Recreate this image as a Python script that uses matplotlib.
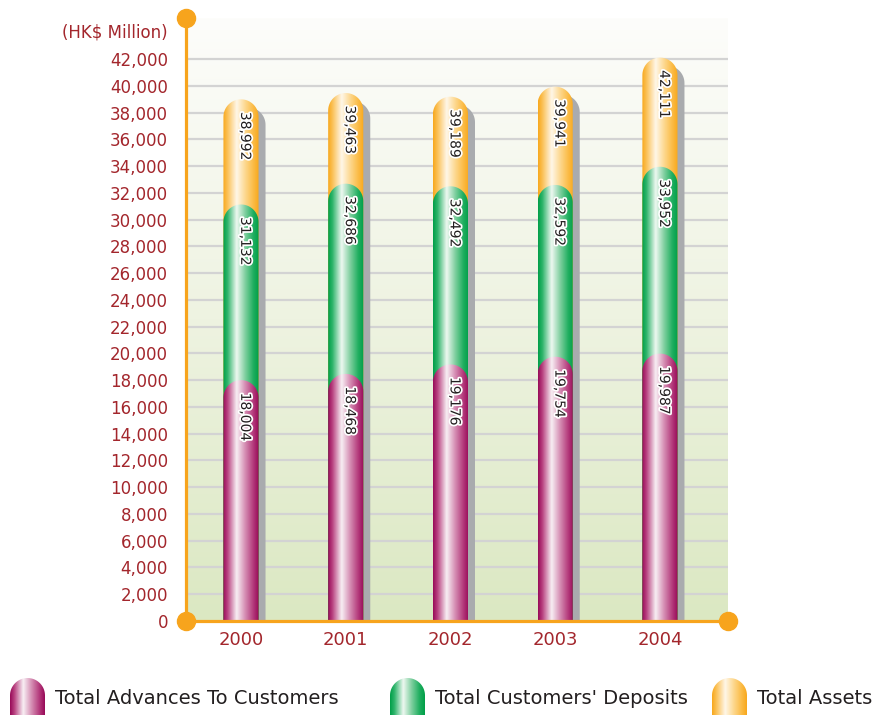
import numpy as np
import matplotlib
matplotlib.use('Agg')
import matplotlib.pyplot as plt
from matplotlib.path import Path
from matplotlib.patches import PathPatch
from matplotlib.colors import LinearSegmentedColormap
import matplotlib.patheffects as pe

# Dados (HK$ milhoes)
years = ['2000', '2001', '2002', '2003', '2004']
advances = [18004, 18468, 19176, 19754, 19987]
deposits = [31132, 32686, 32492, 32592, 33952]
assets = [38992, 39463, 39189, 39941, 42111]
y_ticks = list(range(0, 42001, 2000))
series_names = ['Total Advances To Customers', "Total Customers' Deposits", 'Total Assets']

red = '#a3262c'
orange_axis = '#f7a41d'

cmaps = {
    'mag': LinearSegmentedColormap.from_list('mag', [(0, '#970a58'), (0.12, '#b8407f'), (0.38, '#f8eff4'),
                                                     (0.62, '#d58db3'), (0.85, '#b3387a'), (1, '#970a58')]),
    'grn': LinearSegmentedColormap.from_list('grn', [(0, '#009e48'), (0.12, '#2db46a'), (0.38, '#eef8f1'),
                                                     (0.62, '#7fcf9f'), (0.85, '#1fae5f'), (1, '#009e48')]),
    'org': LinearSegmentedColormap.from_list('org', [(0, '#f8a81c'), (0.12, '#fbc055'), (0.38, '#fff7e8'),
                                                     (0.62, '#fdd88f'), (0.85, '#fbbb45'), (1, '#f8a81c')]),
}

W, H = 893, 715
fig = plt.figure(figsize=(W / 100, H / 100), dpi=100)
ax = fig.add_axes([186 / W, (H - 621) / H, (728 - 186) / W, (621 - 18) / H])

x = np.arange(len(years))
xmin, xmax = -0.525, 4.65
ymax = 45070
bw = 0.335
px_x = (xmax - xmin) / (728 - 186)   # data units per pixel
px_y = ymax / (621 - 18)


def capsule(x0, x1, top, r):
    # caminho: retangulo com topo arredondado
    cx = (x0 + x1) / 2
    a = (x1 - x0) / 2
    t = np.linspace(np.pi, 0, 40)
    verts = [(x0, -1000), (x0, top - r)]
    verts += [(cx + a * np.cos(tt), top - r + r * np.sin(tt)) for tt in t]
    verts += [(x1, -1000), (x0, -1000)]
    codes = [Path.MOVETO] + [Path.LINETO] * (len(verts) - 2) + [Path.CLOSEPOLY]
    return Path(verts, codes)


def grad_bar(axis, x0, x1, top, r, cmap, zorder, transform):
    grad = np.linspace(0, 1, 200).reshape(1, -1)
    im = axis.imshow(grad, cmap=cmap, extent=(x0, x1, -1000, top), aspect='auto',
                     zorder=zorder, interpolation='bilinear')
    patch = PathPatch(capsule(x0, x1, top, r), transform=transform, facecolor='none', edgecolor='none')
    im.set_clip_path(patch)
    return im


# fundo em degrade
bg = np.linspace(1, 0, 256).reshape(-1, 1)
bg_cmap = LinearSegmentedColormap.from_list('bg', ['#dbe8c2', '#eef3e1', '#fdfdfb'])
ax.imshow(bg, cmap=bg_cmap, extent=(xmin, xmax, 0, ymax), aspect='auto', zorder=0, origin='upper')

# linhas de grade
for v in y_ticks[1:]:
    ax.axhline(v, color='#d3d3d3', lw=1.6, zorder=1)

r = 17.5 * px_y
for i in range(len(years)):
    x0, x1 = x[i] - bw / 2, x[i] + bw / 2
    # sombra
    sh = PathPatch(capsule(x0 + 7 * px_x, x1 + 7 * px_x, assets[i] - 8 * px_y, r),
                   facecolor='#a9abae', edgecolor='none', zorder=2)
    ax.add_patch(sh)
    grad_bar(ax, x0, x1, assets[i], r, cmaps['org'], 3, ax.transData)
    grad_bar(ax, x0, x1, deposits[i], r, cmaps['grn'], 4, ax.transData)
    grad_bar(ax, x0, x1, advances[i], r, cmaps['mag'], 5, ax.transData)
    for v in (assets[i], deposits[i], advances[i]):
        ax.annotate(f'{v:,}', (x[i], v), xytext=(3, -9), textcoords='offset points',
                    rotation=-90, ha='center', va='top', fontsize=10, color='#231f20', zorder=6,
                    path_effects=[pe.withStroke(linewidth=2.5, foreground='white')])

ax.set_xlim(xmin, xmax)
ax.set_ylim(0, ymax)
ax.set_xticks(x)
ax.set_xticklabels(years, fontsize=13, color=red)
ax.set_yticks(y_ticks)
ax.set_yticklabels([f'{v:,}' for v in y_ticks], fontsize=12, color=red)
ax.tick_params(length=0)
ax.tick_params(axis='y', pad=13)
ax.tick_params(axis='x', pad=7)
for s in ax.spines.values():
    s.set_visible(False)

# eixos laranja com pontos
ax.plot([xmin, xmin], [0, ymax], color=orange_axis, lw=2.3, clip_on=False, zorder=7)
ax.plot([xmin, xmax], [0, 0], color=orange_axis, lw=2.3, clip_on=False, zorder=7)
ax.plot([xmin, xmin, xmax], [0, ymax, 0], 'o', color=orange_axis, ms=13, clip_on=False, zorder=8)

fig.text(168 / W, 1 - 33 / H, '(HK$ Million)', ha='right', va='center', fontsize=12, color=red)

# legenda
lax = fig.add_axes([0, 0, 1, 60 / H])
lax.set_xlim(0, W)
lax.set_ylim(0, 60)
lax.axis('off')
leg_cmaps = [cmaps['mag'], cmaps['grn'], cmaps['org']]
icon_x = [10, 390, 712]
for name, cm, ix in zip(series_names, leg_cmaps, icon_x):
    grad_bar(lax, ix, ix + 35, 37, 17.5, cm, 2, lax.transData)
    lax.text(ix + 45, 17, name, fontsize=14, color='#231f20', va='center', ha='left')
lax.set_xlim(0, W)
lax.set_ylim(0, 60)

fig.savefig('out.png', dpi=100)
